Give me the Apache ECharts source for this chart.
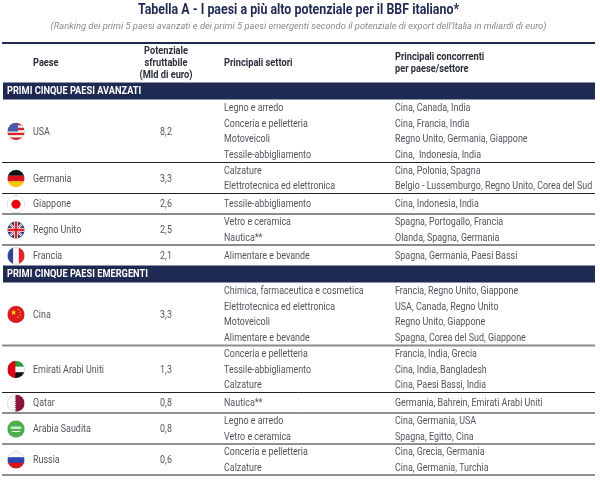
<!DOCTYPE html>
<html>
<head>
<meta charset="utf-8">
<style>html,body{margin:0;padding:0;background:#fff}#chart{width:600px;height:481px}</style>
<script src="https://cdn.jsdelivr.net/npm/echarts@6/dist/echarts.min.js"></script>
</head>
<body>
<div id="chart"></div>
<script>
const titleText = "Tabella A - I paesi a più alto potenziale per il BBF italiano*";
const subtitleText = "(Ranking dei primi 5 paesi avanzati e dei primi 5 paesi emergenti secondo il potenziale di export dell'Italia in miliardi di euro)";
const headPaese = "Paese";
const headPotenziale = ["Potenziale", "sfruttabile", "(Mld di euro)"];
const headSettori = "Principali settori";
const headConcorrenti = ["Principali concorrenti", "per paese/settore"];
const groupLabels = ["PRIMI CINQUE PAESI AVANZATI", "PRIMI CINQUE PAESI EMERGENTI"];
const groupCounts = [5, 5];

const countries = ["USA", "Germania", "Giappone", "Regno Unito", "Francia", "Cina", "Emirati Arabi Uniti", "Qatar", "Arabia Saudita", "Russia"];
const potentials = ["8,2", "3,3", "2,6", "2,5", "2,1", "3,3", "1,3", "0,8", "0,8", "0,6"];
const sectors = [
  ["Legno e arredo", "Conceria e pelletteria", "Motoveicoli", "Tessile-abbigliamento"],
  ["Calzature", "Elettrotecnica ed elettronica"],
  ["Tessile-abbigliamento"],
  ["Vetro e ceramica", "Nautica**"],
  ["Alimentare e bevande"],
  ["Chimica, farmaceutica e cosmetica", "Elettrotecnica ed elettronica", "Motoveicoli", "Alimentare e bevande"],
  ["Conceria e pelletteria", "Tessile-abbigliamento", "Calzature"],
  ["Nautica**"],
  ["Legno e arredo", "Vetro e ceramica"],
  ["Conceria e pelletteria", "Calzature"],
];
const competitors = [
  ["Cina, Canada, India", "Cina, Francia, India", "Regno Unito, Germania, Giappone", "Cina,  Indonesia, India"],
  ["Cina, Polonia, Spagna", "Belgio - Lussemburgo, Regno Unito, Corea del Sud"],
  ["Cina, Indonesia, India"],
  ["Spagna, Portogallo, Francia", "Olanda, Spagna, Germania"],
  ["Spagna, Germania, Paesi Bassi"],
  ["Francia, Regno Unito, Giappone", "USA, Canada, Regno Unito", "Regno Unito, Giappone", "Spagna, Corea del Sud, Giappone"],
  ["Francia, India, Grecia", "Cina, India, Bangladesh", "Cina, Paesi Bassi, India"],
  ["Germania, Bahrein, Emirati Arabi Uniti"],
  ["Cina, Germania, USA", "Spagna, Egitto, Cina"],
  ["Cina, Grecia, Germania", "Cina, Germania, Turchia"],
];
const ruleKinds = ["dark", "dark", "grey", "grey", "none", "grey", "dark", "dark", "dark", "dark"];

const NAVY = "#1f2a52";
const TEXT = "#50555c";
const LINE_H = 15.7;
const ROW_H = { 1: 20.5, 2: 31, 3: 47, 4: 63 };
const BAND_H = 17;
const COL = { flag: 16, name: 33, value: 166, sector: 224, comp: 395, left: 2, right: 595, mid: 298.5 };
const NARROW = 0.85;
const NARROW_BOLD = 0.88;

// walk down the table, one slot per band or country row
const slots = [];
(function () {
  let y = 82.5;
  let idx = 0;
  groupLabels.forEach((label, g) => {
    slots.push({ kind: "band", label, top: y, h: BAND_H });
    y += BAND_H;
    for (let k = 0; k < groupCounts[g]; k++) {
      const h = ROW_H[sectors[idx].length];
      slots.push({ kind: "row", idx, top: y, h });
      y += h;
      idx++;
    }
  });
})();

function label(x, y, text, opt) {
  opt = opt || {};
  return {
    type: "text", x, y, scaleX: opt.scale || NARROW,
    style: {
      text, fill: opt.color || TEXT,
      font: (opt.italic ? "italic " : "") + (opt.weight || "400") + " " + (opt.size || 10.5) + "px Roboto",
      textAlign: opt.align || "left", textVerticalAlign: "middle",
    },
  };
}
function line(x1, x2, y, color, width) {
  return { type: "line", shape: { x1, y1: y, x2, y2: y }, style: { stroke: color, lineWidth: width } };
}
function box(x, y, w, h, fill) {
  return { type: "rect", shape: { x, y, width: w, height: h }, style: { fill } };
}
function star(cx, cy, r, fill) {
  const pts = [];
  for (let i = 0; i < 10; i++) {
    const a = -Math.PI / 2 + (i * Math.PI) / 5;
    const rr = i % 2 ? r * 0.42 : r;
    pts.push([cx + rr * Math.cos(a), cy + rr * Math.sin(a)]);
  }
  return { type: "polygon", shape: { points: pts }, style: { fill } };
}

const flagParts = {
  USA(l, t, s) {
    const out = [];
    for (let i = 0; i < 7; i++) out.push(box(l, t + (i * s) / 7, s, s / 7 + 0.2, i % 2 ? "#f4f4f4" : "#d8222c"));
    out.push(box(l, t, s * 0.62, s * 0.5, "#4a5aa8"));
    return out;
  },
  Germania(l, t, s) {
    return [box(l, t, s, s / 3 + 0.2, "#111"), box(l, t + s / 3, s, s / 3 + 0.2, "#d8141c"), box(l, t + (2 * s) / 3, s, s / 3, "#f6c800")];
  },
  Giappone(l, t, s) {
    return [box(l, t, s, s, "#fff"), { type: "circle", shape: { cx: l + s / 2, cy: t + s / 2, r: s * 0.27 }, style: { fill: "#e8000c" } }];
  },
  "Regno Unito"(l, t, s) {
    const r = l + s, b = t + s, cx = l + s / 2, cy = t + s / 2;
    const diag = (x1, y1, x2, y2, c, w) => ({ type: "line", shape: { x1, y1, x2, y2 }, style: { stroke: c, lineWidth: w } });
    return [
      box(l, t, s, s, "#2a3c84"),
      diag(l, t, r, b, "#eee", 2.4), diag(l, b, r, t, "#eee", 2.4),
      diag(l, t, r, b, "#d8222c", 0.8), diag(l, b, r, t, "#d8222c", 0.8),
      box(cx - 2, t, 4, s, "#eee"), box(l, cy - 2, s, 4, "#eee"),
      box(cx - 1.2, t, 2.4, s, "#d8222c"), box(l, cy - 1.2, s, 2.4, "#d8222c"),
    ];
  },
  Francia(l, t, s) {
    return [box(l, t, s / 3 + 0.2, s, "#33439c"), box(l + s / 3, t, s / 3 + 0.2, s, "#f6f6f6"), box(l + (2 * s) / 3, t, s / 3, s, "#e3202c")];
  },
  Cina(l, t, s) {
    return [box(l, t, s, s, "#dc1a1e"), star(l + s * 0.36, t + s * 0.38, 3, "#ffdb00"), star(l + s * 0.64, t + s * 0.2, 1, "#ffdb00"),
      star(l + s * 0.74, t + s * 0.36, 1, "#ffdb00"), star(l + s * 0.74, t + s * 0.54, 1, "#ffdb00"), star(l + s * 0.62, t + s * 0.68, 1, "#ffdb00")];
  },
  "Emirati Arabi Uniti"(l, t, s) {
    return [box(l, t, s, s / 3 + 0.2, "#2f9a3c"), box(l, t + s / 3, s, s / 3 + 0.2, "#f6f6f6"), box(l, t + (2 * s) / 3, s, s / 3, "#111"), box(l, t, s * 0.46, s, "#e00014")];
  },
  Qatar(l, t, s) {
    const pts = [[l + s * 0.42, t]];
    for (let i = 0; i < 8; i++) {
      pts.push([l + s * 0.52, t + ((i + 0.5) * s) / 8]);
      pts.push([l + s * 0.42, t + ((i + 1) * s) / 8]);
    }
    pts.push([l + s, t + s], [l + s, t]);
    return [box(l, t, s, s, "#f6f6f6"), { type: "polygon", shape: { points: pts }, style: { fill: "#8a1538" } }];
  },
  "Arabia Saudita"(l, t, s) {
    return [box(l, t, s, s, "#4caf4a"), box(l + s * 0.18, t + s * 0.36, s * 0.64, s * 0.14, "#cfe9cd"), box(l + s * 0.25, t + s * 0.62, s * 0.5, s * 0.05, "#f2f2f2")];
  },
  Russia(l, t, s) {
    return [box(l, t, s, s / 3 + 0.2, "#f6f6f6"), box(l, t + s / 3, s, s / 3 + 0.2, "#2a46ac"), box(l, t + (2 * s) / 3, s, s / 3, "#d8141c")];
  },
};

function flag(name, cx, cy) {
  const r = 8.5;
  return {
    type: "group",
    children: [
      { type: "circle", shape: { cx, cy, r: r + 0.5 }, style: { fill: "#d4d4d4" } },
      {
        type: "group",
        clipPath: { type: "circle", shape: { cx, cy, r } },
        children: flagParts[name](cx - r, cy - r, r * 2),
      },
    ],
  };
}

function renderSlot(params, api) {
  const slot = slots[api.value(0)];
  const top = api.coord([0, slot.top])[1];
  const h = slot.h;
  const px = (v) => api.coord([v, 0])[0];
  const kids = [];
  if (slot.kind === "band") {
    kids.push(box(px(3), top, px(COL.right) - px(3), h, NAVY));
    kids.push(label(px(7), top + h / 2 + 0.5, slot.label, { color: "#fff", weight: "700", scale: NARROW_BOLD }));
    return { type: "group", children: kids };
  }
  const i = slot.idx;
  const cy = top + h / 2 + 0.5;
  const textY = cy + 0.5;
  kids.push(flag(countries[i], px(COL.flag), cy));
  kids.push(label(px(COL.name), textY, countries[i]));
  kids.push(label(px(COL.value), textY, potentials[i], { align: "center" }));
  sectors[i].forEach((t, k) => {
    const y = textY + (k - (sectors[i].length - 1) / 2) * LINE_H;
    kids.push(label(px(COL.sector), y, t));
    kids.push(label(px(COL.comp), y, competitors[i][k]));
  });
  if (ruleKinds[i] === "dark") kids.push(line(px(COL.left), px(COL.right), top + h, "#222", 1));
  if (ruleKinds[i] === "grey") kids.push(line(px(COL.left), px(COL.right), top + h, "#8c8c8c", 2));
  return { type: "group", children: kids };
}

function renderHeader(params, api) {
  const px = (v) => api.coord([v, 0])[0];
  const head = { color: "#2b2f3a", weight: "700", scale: NARROW_BOLD };
  const kids = [
    label(px(COL.mid), 10, titleText, { color: NAVY, weight: "700", size: 14.5, align: "center", scale: 0.855 }),
    label(px(COL.mid), 26.5, subtitleText, { color: "#8a8a8a", italic: true, size: 9.5, align: "center", scale: 0.982 }),
    line(px(COL.left), px(COL.right), 43, NAVY, 2),
  ];
  kids.push(label(px(COL.name), 63, headPaese, head));
  headPotenziale.forEach((t, k) => kids.push(label(px(COL.value), 51 + k * 12.3, t, { ...head, align: "center" })));
  kids.push(label(px(COL.sector), 63, headSettori, head));
  headConcorrenti.forEach((t, k) => kids.push(label(px(COL.comp), 57 + k * 12.3, t, head)));
  return { type: "group", children: kids };
}

const chart = echarts.init(document.getElementById("chart"), null, { renderer: "canvas" });
chart.setOption({
  animation: false,
  backgroundColor: "#fff",
  grid: { left: 0, right: 0, top: 0, bottom: 0 },
  xAxis: { type: "value", min: 0, max: 600, show: false },
  yAxis: { type: "value", min: 0, max: 481, inverse: true, show: false },
  series: [
    { type: "custom", silent: true, clip: false, encode: { x: 0 }, data: [[0]], renderItem: renderHeader },
    { type: "custom", silent: true, clip: false, encode: { x: 0 }, data: slots.map((s, i) => [i]), renderItem: renderSlot },
  ],
});
window.addEventListener("resize", () => chart.resize());
</script>
</body>
</html>
